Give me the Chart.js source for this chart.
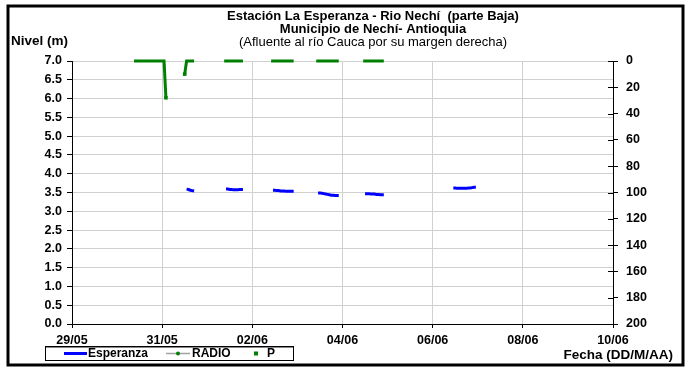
<!DOCTYPE html>
<html>
<head>
<meta charset="utf-8">
<script src="https://cdn.jsdelivr.net/npm/chart.js@4.4.1/dist/chart.umd.min.js"></script>
<style>
  body { margin: 0; background: #fff; }
  canvas { display: block; }
</style>
</head>
<body>
<canvas id="chart" width="689" height="370"></canvas>
<script>
// hours counted from 29/05 00:00
const esperanzaStarts = [61, 82, 107, 131, 156, 203];
const esperanzaValues = [
  [3.59, 3.58, 3.56, 3.55, 3.54],
  [3.59, 3.59, 3.58, 3.58, 3.57, 3.57, 3.57, 3.58, 3.58, 3.58],
  [3.56, 3.56, 3.55, 3.55, 3.54, 3.54, 3.54, 3.53, 3.53, 3.53, 3.53, 3.53],
  [3.49, 3.49, 3.48, 3.47, 3.46, 3.45, 3.44, 3.43, 3.43, 3.42, 3.42, 3.42],
  [3.47, 3.47, 3.47, 3.46, 3.46, 3.46, 3.45, 3.45, 3.44, 3.44, 3.44],
  [3.62, 3.62, 3.61, 3.61, 3.61, 3.61, 3.61, 3.61, 3.62, 3.62, 3.63, 3.64, 3.64]
];

const pStarts = [33, 60, 81, 106, 130, 155];
const pValues = [
  [0, 0, 0, 0, 0, 0, 0, 0, 0, 0, 0, 0, 0, 0, 0, 0, 0, 28],
  [10, 0, 0, 0, 0, 0],
  [0, 0, 0, 0, 0, 0, 0, 0, 0, 0, 0],
  [0, 0, 0, 0, 0, 0, 0, 0, 0, 0, 0, 0, 0],
  [0, 0, 0, 0, 0, 0, 0, 0, 0, 0, 0, 0, 0],
  [0, 0, 0, 0, 0, 0, 0, 0, 0, 0, 0, 0]
];

const nivelTicks = [0, 0.5, 1, 1.5, 2, 2.5, 3, 3.5, 4, 4.5, 5, 5.5, 6, 6.5, 7];
const pTicks = [0, 20, 40, 60, 80, 100, 120, 140, 160, 180, 200];
const dateTicks = ['29/05', '31/05', '02/06', '04/06', '06/06', '08/06', '10/06'];

const titleLines = [
  'Estación La Esperanza - Rio Nechí  (parte Baja)',
  'Municipio de Nechí- Antioquia',
  '(Afluente al río Cauca por su margen derecha)'
];
const legendNames = ['Esperanza', 'RADIO', 'P'];

const FONT = '"Liberation Sans", Arial, sans-serif';

function toPoints(starts, values) {
  const pts = [];
  starts.forEach((s, i) => {
    values[i].forEach((v, j) => pts.push({ x: (s + j) / 24, y: v }));
    pts.push({ x: (s + values[i].length) / 24, y: null });
  });
  return pts;
}

const decor = {
  id: 'decor',
  afterDraw(chart) {
    const ctx = chart.ctx;
    ctx.save();
    // frame
    ctx.strokeStyle = '#000';
    ctx.lineWidth = 3;
    ctx.strokeRect(8, 6, 675, 359);

    // crossing ticks on the right axis
    const y2 = chart.scales.y2;
    ctx.lineWidth = 1;
    ctx.beginPath();
    pTicks.forEach((v) => {
      const py = Math.round(y2.getPixelForValue(v)) + 0.5;
      ctx.moveTo(y2.left - 5, py);
      ctx.lineTo(y2.left, py);
    });
    ctx.stroke();

    ctx.fillStyle = '#000';
    ctx.textBaseline = 'middle';
    ctx.textAlign = 'center';
    ctx.font = 'bold 13px ' + FONT;
    ctx.fillText(titleLines[0], 373, 16);
    ctx.fillText(titleLines[1], 373, 29);
    ctx.font = '13px ' + FONT;
    ctx.fillText(titleLines[2], 373, 42);

    ctx.textAlign = 'left';
    ctx.font = 'bold 13.5px ' + FONT;
    ctx.fillText('Nivel (m)', 11, 41);
    ctx.textAlign = 'right';
    ctx.fillText('Fecha (DD/M/AA)', 673, 355);

    // legend
    ctx.fillStyle = '#fff';
    ctx.fillRect(45, 346, 248, 14);
    ctx.strokeStyle = '#000';
    ctx.lineWidth = 1;
    ctx.strokeRect(45.5, 346.5, 248, 14);
    ctx.strokeStyle = '#888';
    ctx.beginPath();
    ctx.moveTo(46, 347.5); ctx.lineTo(293, 347.5);
    ctx.stroke();

    const ly = 353.5;
    ctx.strokeStyle = '#0000ff';
    ctx.lineWidth = 3;
    ctx.beginPath(); ctx.moveTo(64, ly); ctx.lineTo(87, ly); ctx.stroke();
    ctx.strokeStyle = '#a0a0a0';
    ctx.lineWidth = 1.5;
    ctx.beginPath(); ctx.moveTo(166, ly); ctx.lineTo(190, ly); ctx.stroke();
    ctx.fillStyle = '#008000';
    ctx.beginPath(); ctx.arc(178, ly, 2, 0, Math.PI * 2); ctx.fill();
    ctx.fillRect(254, ly - 2, 4, 4);

    ctx.fillStyle = '#000';
    ctx.textAlign = 'left';
    ctx.font = 'bold 12px ' + FONT;
    ctx.fillText(legendNames[0], 88, ly);
    ctx.fillText(legendNames[1], 192, ly);
    ctx.fillText(legendNames[2], 267, ly);
    ctx.restore();
  }
};

new Chart(document.getElementById('chart'), {
  type: 'line',
  data: {
    datasets: [
      {
        label: legendNames[0],
        data: toPoints(esperanzaStarts, esperanzaValues),
        borderColor: '#0000ff',
        borderWidth: 3,
        pointRadius: 0,
        spanGaps: false,
        yAxisID: 'y'
      },
      {
        label: legendNames[1],
        data: [],
        borderColor: '#a0a0a0',
        pointBackgroundColor: '#008000',
        yAxisID: 'y'
      },
      {
        label: legendNames[2],
        data: toPoints(pStarts, pValues),
        borderColor: '#008000',
        backgroundColor: '#008000',
        borderWidth: 3,
        pointStyle: 'rect',
        pointRadius: (c) => (c.raw && c.raw.y > 0 ? 2.5 : 0),
        pointBorderWidth: 0,
        spanGaps: false,
        clip: false,
        yAxisID: 'y2'
      }
    ]
  },
  options: {
    responsive: false,
    animation: false,
    layout: { padding: { top: 61, left: 0, right: 0, bottom: 0 } },
    plugins: { legend: { display: false }, tooltip: { enabled: false } },
    scales: {
      x: {
        type: 'linear',
        min: 0,
        max: 12,
        afterBuildTicks: (s) => { s.ticks = dateTicks.map((_, i) => ({ value: i * 2 })); },
        afterFit: (s) => { s.height = 46; },
        ticks: {
          callback: (v) => dateTicks[v / 2],
          color: '#000',
          font: { family: FONT, size: 12.5, weight: 'bold' },
          padding: 5,
          maxRotation: 0
        },
        grid: { color: '#d0d0d0', tickColor: '#000', tickLength: 4 },
        border: { color: '#000', width: 1 }
      },
      y: {
        position: 'left',
        min: 0,
        max: 7,
        afterBuildTicks: (s) => { s.ticks = nivelTicks.map((v) => ({ value: v })); },
        afterFit: (s) => { s.width = 72; },
        ticks: {
          callback: (v) => v.toFixed(1),
          color: '#000',
          font: { family: FONT, size: 12.5, weight: 'bold' },
          padding: 5
        },
        grid: { color: '#d0d0d0', tickColor: '#000', tickLength: 5 },
        border: { color: '#000', width: 1 }
      },
      y2: {
        position: 'right',
        reverse: true,
        min: 0,
        max: 200,
        afterBuildTicks: (s) => { s.ticks = pTicks.map((v) => ({ value: v })); },
        afterFit: (s) => { s.width = 76; },
        ticks: {
          color: '#000',
          font: { family: FONT, size: 12.5, weight: 'bold' },
          padding: 8
        },
        grid: { drawOnChartArea: false, tickColor: '#000', tickLength: 5 },
        border: { color: '#000', width: 1 }
      }
    }
  },
  plugins: [decor]
});
</script>
</body>
</html>
